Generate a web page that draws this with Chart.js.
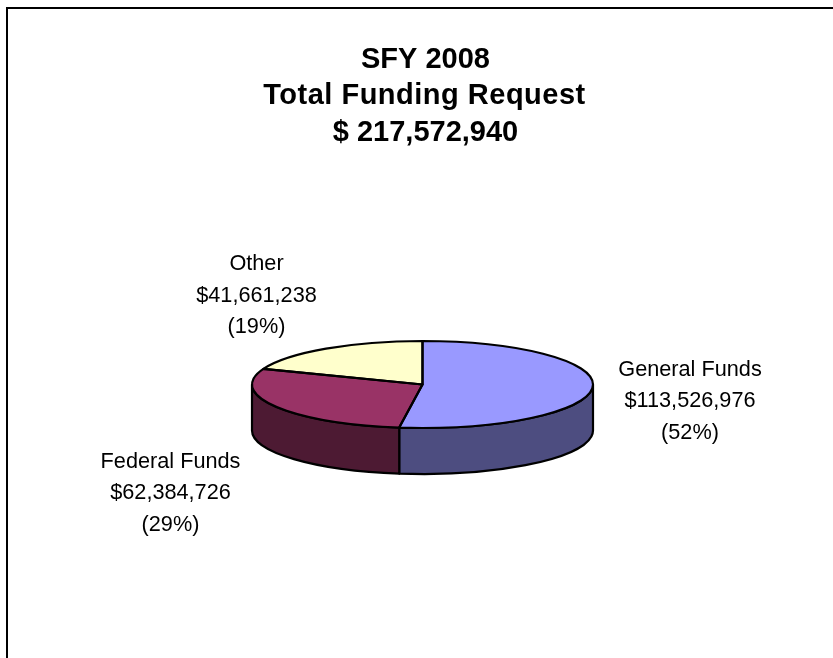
<!DOCTYPE html>
<html>
<head>
<meta charset="utf-8">
<title>SFY 2008 Total Funding Request</title>
<script src="https://cdn.jsdelivr.net/npm/chart.js@4"></script>
<style>
html,body{margin:0;padding:0;background:#fff;overflow:hidden}
#wrap{position:relative;width:833px;height:658px}
#frame{position:absolute;left:6px;top:7px;right:0;bottom:0;border-top:2px solid #000;border-left:2px solid #000}
canvas{position:absolute;left:0;top:0}
</style>
</head>
<body>
<div id="wrap">
<div id="frame"></div>
<canvas id="c" width="833" height="658"></canvas>
</div>
<script>
const categories = ["General Funds", "Federal Funds", "Other"];
const amounts = [113526976, 62384726, 41661238];
const amountLabels = ["$113,526,976", "$62,384,726", "$41,661,238"];
const percentLabels = ["(52%)", "(29%)", "(19%)"];
const titleLines = ["SFY 2008", "Total Funding Request", "$ 217,572,940"];
const topColors = ["#9999FF", "#993366", "#FFFFCC"];
const sideColors = ["#4D4D80", "#4D1A33", "#808066"];

const ellipse = {cx: 422.5, cy: 384.5, rx: 170.5, ry: 43.5, depth: 46};
const labelAnchors = [{x: 690, y: 376}, {x: 170.5, y: 468}, {x: 256.5, y: 270.3}];
const labelLineStep = 31.3;
const titleAnchors = [
  {x: 425.5, y: 67.5, spacing: 0},
  {x: 424.5, y: 104, spacing: 0.5},
  {x: 425.5, y: 141, spacing: 0}
];
const FONT = "'Liberation Sans', Arial, sans-serif";

function toEllipse(ctx, a, dy) {
  const R = a.outerRadius;
  ctx.translate(ellipse.cx, ellipse.cy + dy);
  ctx.scale(ellipse.rx / R, ellipse.ry / R);
  ctx.translate(-a.x, -a.y);
}

const pie3d = {
  id: "pie3d",
  beforeDatasetsDraw(chart) {
    const ctx = chart.ctx;
    const arcs = chart.getDatasetMeta(0).data;
    ctx.lineWidth = 2.2;
    ctx.strokeStyle = "#000";
    ctx.lineJoin = "round";
    arcs.forEach((a, i) => {
      const p = a.getProps(["x", "y", "startAngle", "endAngle", "outerRadius"], true);
      const s = Math.max(p.startAngle, 0), e = Math.min(p.endAngle, Math.PI);
      if (e <= s) return;
      ctx.save();
      ctx.beginPath();
      ctx.save(); toEllipse(ctx, p, 0); ctx.arc(p.x, p.y, p.outerRadius, s, e); ctx.restore();
      ctx.save(); toEllipse(ctx, p, ellipse.depth); ctx.arc(p.x, p.y, p.outerRadius, e, s, true); ctx.restore();
      ctx.closePath();
      ctx.fillStyle = sideColors[i];
      ctx.fill();
      ctx.stroke();
      ctx.restore();
    });
    ctx.save();
    toEllipse(ctx, arcs[0].getProps(["x", "y", "outerRadius"], true), 0);
  },
  afterDatasetsDraw(chart) {
    const ctx = chart.ctx;
    ctx.restore();
    const arcs = chart.getDatasetMeta(0).data;
    ctx.lineWidth = 2.2;
    ctx.strokeStyle = "#000";
    ctx.lineJoin = "round";
    arcs.forEach(a => {
      const p = a.getProps(["x", "y", "startAngle", "endAngle", "outerRadius"], true);
      ctx.beginPath();
      ctx.save();
      toEllipse(ctx, p, 0);
      ctx.moveTo(p.x, p.y);
      ctx.arc(p.x, p.y, p.outerRadius, p.startAngle, p.endAngle);
      ctx.closePath();
      ctx.restore();
      ctx.stroke();
    });
    ctx.save();
    ctx.fillStyle = "#000";
    ctx.textAlign = "center";
    ctx.textBaseline = "alphabetic";
    ctx.font = "21.7px " + FONT;
    categories.forEach((name, i) => {
      const c = labelAnchors[i];
      [name, amountLabels[i], percentLabels[i]].forEach((t, k) => {
        ctx.fillText(t, c.x, c.y + k * labelLineStep);
      });
    });
    ctx.font = "bold 29px " + FONT;
    titleLines.forEach((t, i) => {
      const c = titleAnchors[i];
      ctx.letterSpacing = c.spacing + "px";
      ctx.fillText(t, c.x, c.y);
    });
    ctx.restore();
  }
};

new Chart(document.getElementById("c"), {
  type: "pie",
  data: {
    labels: categories,
    datasets: [{
      data: amounts,
      backgroundColor: topColors,
      borderWidth: 0,
      clip: false
    }]
  },
  options: {
    responsive: false,
    animation: false,
    events: [],
    layout: {padding: {left: 15, top: 30}},
    plugins: {
      legend: {display: false},
      tooltip: {enabled: false},
      title: {display: false}
    }
  },
  plugins: [pie3d]
});
</script>
</body>
</html>
